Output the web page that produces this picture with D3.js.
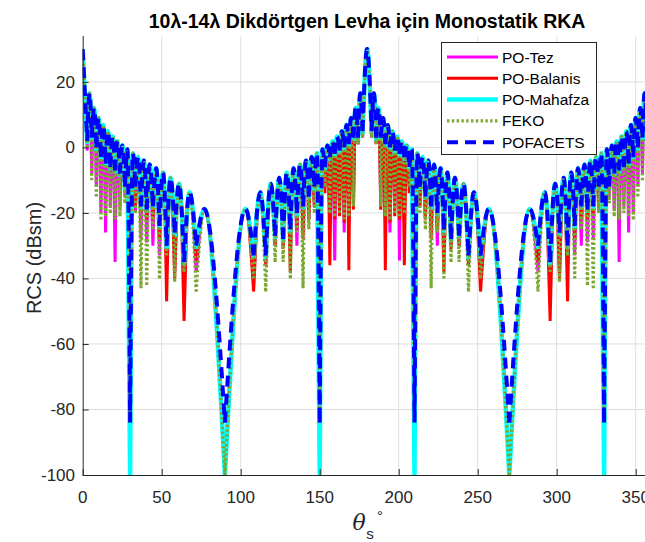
<!DOCTYPE html>
<html><head><meta charset="utf-8">
<script src="https://cdn.jsdelivr.net/npm/d3@7"></script>
<style>
html,body{margin:0;padding:0;background:#fff;}
svg{display:block;font-family:"Liberation Sans",Arial,Helvetica,sans-serif;}
</style></head><body>
<svg id="chart" width="645" height="542"></svg>
<script>
// ---- data ----
const xTicks = [0, 50, 100, 150, 200, 250, 300, 350];
const yTicks = [-100, -80, -60, -40, -20, 0, 20];
const seriesNames = ["PO-Tez", "PO-Balanis", "PO-Mahafza", "FEKO", "POFACETS"];

// lobe maxima (theta in degrees, RCS in dBsm)
const peakTheta = [0, 4.3, 7.2, 10.1, 13.0, 16.0, 19.0, 22.0, 25.1, 28.3, 31.7, 35.1, 38.7, 42.4, 46.5, 50.8, 55.6, 61.0, 67.6, 77.0,
  103.0, 112.4, 119.0, 124.4, 129.2, 133.5, 137.6, 141.3, 144.9, 148.3, 151.7, 154.9, 158.0, 161.0, 164.0, 167.0, 169.9, 172.8, 175.7, 180,
  184.3, 187.2, 190.1, 193.0, 196.0, 199.0, 202.0, 205.1, 208.3, 211.7, 215.1, 218.7, 222.4, 226.5, 230.8, 235.6, 241.0, 247.6, 257.0,
  283.0, 292.4, 299.0, 304.4, 309.2, 313.5, 317.6, 321.3, 324.9, 328.3, 331.7, 334.9, 338.0, 341.0, 344.0, 347.0, 349.9, 352.8, 355.7, 360];
const peakRcs = [30, 16.5, 12, 9, 6.8, 4.9, 3.3, 1.9, 0.6, -0.6, -1.8, -2.9, -4.0, -5.2, -6.4, -7.7, -9.3, -11.1, -13.7, -18.8,
  -18.8, -13.7, -11.1, -9.3, -7.7, -6.4, -5.2, -4.0, -2.9, -1.8, -0.6, 0.6, 1.9, 3.3, 4.9, 6.8, 9, 12, 16.5, 30,
  16.5, 12, 9, 6.8, 4.9, 3.3, 1.9, 0.6, -0.6, -1.8, -2.9, -4.0, -5.2, -6.4, -7.7, -9.3, -11.1, -13.7, -18.8,
  -18.8, -13.7, -11.1, -9.3, -7.7, -6.4, -5.2, -4.0, -2.9, -1.8, -0.6, 0.6, 1.9, 3.3, 4.9, 6.8, 9, 12, 16.5, 30];

// lobe minima positions
const nullTheta = [2.87, 5.74, 8.63, 11.54, 14.48, 17.46, 20.49, 23.58, 26.74, 30.00, 33.37, 36.87, 40.54, 44.43, 48.59, 53.13, 58.21, 64.16, 71.81, 90.00,
  108.19, 115.84, 121.79, 126.87, 131.41, 135.57, 139.46, 143.13, 146.63, 150.00, 153.26, 156.42, 159.51, 162.54, 165.52, 168.46, 171.37, 174.26, 177.13,
  182.87, 185.74, 188.63, 191.54, 194.48, 197.46, 200.49, 203.58, 206.74, 210.00, 213.37, 216.87, 220.54, 224.43, 228.59, 233.13, 238.21, 244.16, 251.81, 270.00,
  288.19, 295.84, 301.79, 306.87, 311.41, 315.57, 319.46, 323.13, 326.63, 330.00, 333.26, 336.42, 339.51, 342.54, 345.52, 348.46, 351.37, 354.26, 357.13];

// RCS at the minima, one list per solver
const nullPOTez = [-1, -8, -12, -20, -26, -18, -35, -19, -15, -84, -20, -28, -29, -30, -33, -35, -38, -40, -38, -100,
  -36, -35, -30, -30, -30, -30, -26, -22, -18, -84, -12, -22, -34.5, -19, -26, -22, -17, 1, 3,
  3, 1, -17, -22, -26, -19, -34.5, -22, -12, -84, -18, -22, -26, -30, -30, -30, -30, -35, -36, -100,
  -38, -40, -38, -35, -33, -30, -29, -28, -20, -84, -15, -19, -35, -18, -26, -20, -12, -8, -1];
const nullPOBalanis = [1, 2, -1, -4, -6, -7, -8, -9, -13, -84, -18, -20, -22, -22, -28, -47, -40, -53, -35, -100,
  -44, -36, -30, -31, -38, -25, -28, -22, -18, -84, -14, -36, -22, -21, -23, -37.5, -19, 1, 3,
  3, 1, -19, -37.5, -23, -21, -22, -36, -14, -84, -18, -22, -28, -25, -38, -31, -30, -36, -44, -100,
  -35, -53, -40, -47, -28, -22, -22, -20, -18, -84, -13, -9, -8, -7, -6, -4, -1, 2, 1];
const nullPOMahafza = [1, 2, -1, -4, -6, -7, -8, -9, -13, -100, -13, -19, -20, -19, -25, -31, -27, -36, -31, -100,
  -34, -34, -28, -29, -26, -21, -19, -16, -13, -100, -7, -4, -3, -2, -1, 0, 2, 2, 4,
  4, 2, 2, 0, -1, -2, -3, -4, -7, -100, -13, -16, -19, -21, -26, -29, -28, -34, -34, -100,
  -31, -36, -27, -31, -25, -19, -20, -19, -13, -100, -13, -9, -8, -7, -6, -4, -1, 2, 1];
const nullFEKO = [0, -10, -15, -22, -21, -20, -22, -21, -17, -84, -20, -43, -42, -25, -40, -33, -41, -38, -44, -100,
  -40, -44, -35, -35, -40, -26, -43, -25, -20, -84, -12, -20, -21, -20, -22, -21, -18, 1, 3,
  3, 1, -18, -21, -22, -20, -21, -20, -12, -84, -20, -25, -43, -26, -40, -35, -35, -44, -40, -100,
  -44, -38, -41, -33, -40, -25, -42, -43, -20, -84, -17, -21, -22, -20, -21, -22, -15, -10, 0];
const nullPOFACETS = [2, 3, 0, -3, -5, -6, -7, -8, -12, -84, -12, -18, -19, -18, -24, -30, -26, -35, -30, -84,
  -33, -33, -27, -28, -25, -20, -18, -15, -12, -84, -6, -3, -2, -1, 0, 1, 3, 3, 5,
  5, 3, 3, 1, 0, -1, -2, -3, -6, -84, -12, -15, -18, -20, -25, -28, -27, -33, -33, -84,
  -30, -35, -26, -30, -24, -18, -19, -18, -12, -84, -12, -8, -7, -6, -5, -3, 0, 3, 2];

const seriesNulls = [nullPOTez, nullPOBalanis, nullPOMahafza, nullFEKO, nullPOFACETS];
const seriesColors = ["#ff00ff", "#ff0000", "#00ffff", "#7aa832", "#0000ff"];
const seriesWidths = [3, 3, 4.5, 3.2, 4];
const seriesDash = [null, null, null, "2.4,2.4", "11,7"];

// ---- layout ----
const svg = d3.select("#chart");
const X0 = 82.7, X1 = 651.5, Y0 = 475, Y1 = 36;
const x = d3.scaleLinear().domain([0, 360]).range([X0, X1]);
const y = d3.scaleLinear().domain([-100, 34]).range([Y0, Y1]);
const axisColor = "#262626";

svg.append("defs").append("clipPath").attr("id", "clip")
  .append("rect").attr("x", X0).attr("y", Y1).attr("width", X1 - X0).attr("height", Y0 - Y1);

// grid
const grid = svg.append("g");
grid.selectAll("line.gx").data(xTicks.filter(d => d > 0)).enter().append("line")
  .attr("x1", d => x(d)).attr("x2", d => x(d)).attr("y1", Y0).attr("y2", Y1)
  .attr("stroke", "#dfdfdf").attr("stroke-width", 1);
grid.selectAll("line.gy").data(yTicks.filter(d => d > -100)).enter().append("line")
  .attr("x1", X0).attr("x2", X1).attr("y1", d => y(d)).attr("y2", d => y(d))
  .attr("stroke", "#dfdfdf").attr("stroke-width", 1);

// series
function lobes(nullVals) {
  const out = [];
  for (let k = 0; k < peakTheta.length; k++) {
    const pts = [];
    if (k > 0) pts.push([nullTheta[k - 1], nullVals[k - 1]]);
    pts.push([peakTheta[k], peakRcs[k]]);
    if (k < nullTheta.length) pts.push([nullTheta[k], nullVals[k]]);
    out.push(pts);
  }
  return out;
}
const lineGen = d3.line().x(d => x(d[0])).y(d => y(d[1])).curve(d3.curveMonotoneX);
const plot = svg.append("g").attr("clip-path", "url(#clip)");
seriesNames.forEach((name, i) => {
  const d = lobes(seriesNulls[i]).map(l => lineGen(l)).join("");
  plot.append("path").attr("d", d).attr("fill", "none")
    .attr("stroke", seriesColors[i]).attr("stroke-width", seriesWidths[i])
    .attr("stroke-dasharray", seriesDash[i]).attr("stroke-linejoin", "round");
});

// axes
const xAxis = d3.axisBottom(x).tickValues(xTicks).tickSizeInner(-6).tickSizeOuter(0).tickFormat("");
const yAxis = d3.axisLeft(y).tickValues(yTicks).tickSizeInner(-6).tickSizeOuter(0).tickFormat("");
const gx = svg.append("g").attr("transform", `translate(0,${Y0})`).call(xAxis);
const gy = svg.append("g").attr("transform", `translate(${X0},0)`).call(yAxis);
[gx, gy].forEach(g => {
  g.select(".domain").attr("stroke", axisColor).attr("stroke-width", 1);
  g.selectAll(".tick line").attr("stroke", axisColor).attr("stroke-width", 1);
});
gy.select(".domain").attr("d", `M0.5,${Y0}V${Y1}`);
gx.select(".domain").attr("d", `M${X0},0.5H${X1}`);

svg.append("g").selectAll("text").data(xTicks).enter().append("text")
  .attr("x", d => x(d)).attr("y", 503).attr("text-anchor", "middle")
  .attr("font-size", 17).attr("fill", axisColor).text(d => d);
svg.append("g").selectAll("text").data(yTicks).enter().append("text")
  .attr("x", 75).attr("y", d => y(d) + 6).attr("text-anchor", "end")
  .attr("font-size", 17).attr("fill", axisColor).text(d => d);

// title
svg.append("text").attr("x", (X0 + X1) / 2).attr("y", 28).attr("text-anchor", "middle")
  .attr("font-size", 19.5).attr("font-weight", "bold").attr("fill", "#000")
  .text("10λ-14λ Dikdörtgen Levha için Monostatik RKA");

// axis labels
svg.append("text").attr("transform", "translate(41,258) rotate(-90)").attr("text-anchor", "middle")
  .attr("font-size", 20).attr("fill", axisColor).text("RCS (dBsm)");
const xl = svg.append("g").attr("fill", axisColor);
xl.append("text").attr("x", 359).attr("y", 530).attr("text-anchor", "middle")
  .attr("font-size", 22).attr("font-style", "italic").attr("font-family", "'DejaVu Serif', serif").text("θ");
xl.append("text").attr("x", 370).attr("y", 539).attr("text-anchor", "middle")
  .attr("font-size", 15).text("s");
xl.append("text").attr("x", 380).attr("y", 521).attr("text-anchor", "middle")
  .attr("font-size", 15).text("°");

// legend
const lg = svg.append("g");
lg.append("rect").attr("x", 441.5).attr("y", 42.5).attr("width", 155).attr("height", 112)
  .attr("fill", "#fff").attr("stroke", axisColor).attr("stroke-width", 1);
seriesNames.forEach((name, i) => {
  const yy = 57 + i * 21.3;
  lg.append("line").attr("x1", 447).attr("x2", 498).attr("y1", yy).attr("y2", yy)
    .attr("stroke", seriesColors[i]).attr("stroke-width", seriesWidths[i])
    .attr("stroke-dasharray", seriesDash[i]);
  lg.append("text").attr("x", 502).attr("y", yy + 5.5).attr("font-size", 15.5)
    .attr("fill", "#000").text(name);
});
</script>
</body></html>
